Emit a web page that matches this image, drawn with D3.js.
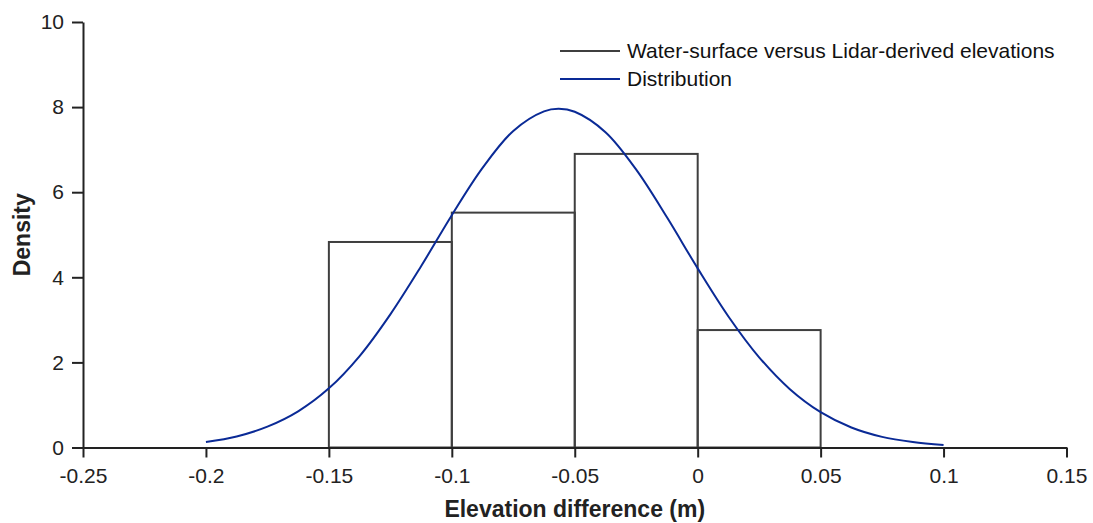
<!DOCTYPE html>
<html>
<head>
<meta charset="utf-8">
<script src="https://cdn.jsdelivr.net/npm/d3@7/dist/d3.min.js"></script>
<style>
  html, body { margin: 0; padding: 0; background: #fff; }
  svg { display: block; font-family: "Liberation Sans", Arial, sans-serif; }
</style>
</head>
<body>
<svg id="chart" width="1093" height="523"></svg>
<script>
// Histogram of elevation differences (density per 0.05 m bin)
const binEdges = [-0.15, -0.1, -0.05, 0, 0.05];
const binDensity = [4.83, 5.52, 6.90, 2.76];

// Fitted distribution curve, sampled along the elevation difference axis
const distX = [-0.2, -0.1875, -0.175, -0.1625, -0.15, -0.1375, -0.125, -0.1125, -0.1,
  -0.0875, -0.075, -0.0625, -0.0565, -0.05, -0.0375, -0.025, -0.0125, 0, 0.0125, 0.025,
  0.0375, 0.05, 0.0625, 0.075, 0.0875, 0.1];
const distY = [0.13, 0.26, 0.49, 0.85, 1.39, 2.15, 3.13, 4.26, 5.46,
  6.57, 7.44, 7.90, 7.96, 7.89, 7.41, 6.53, 5.41, 4.21, 3.08, 2.12,
  1.37, 0.83, 0.47, 0.25, 0.13, 0.06];

// Axis ticks
const xTicks = [-0.25, -0.2, -0.15, -0.1, -0.05, 0, 0.05, 0.1, 0.15];
const yTicks = [0, 2, 4, 6, 8, 10];

const legendLabels = ["Water-surface versus Lidar-derived elevations", "Distribution"];

const svg = d3.select("#chart");
const plotLeft = 83, plotRight = 1066.5, plotTop = 22, plotBottom = 447.5;

const x = d3.scaleLinear().domain([-0.25, 0.15]).range([plotLeft, plotRight]);
const y = d3.scaleLinear().domain([0, 10]).range([plotBottom, plotTop]);

const axisColor = "#222";
const barColor = "#3f3f3f";
const curveColor = "#0a2a96";

// Histogram bars (outlined)
const bars = binDensity.map((d, i) => ({ x0: binEdges[i], x1: binEdges[i + 1], v: d }));
svg.append("g")
  .selectAll("rect")
  .data(bars)
  .join("rect")
  .attr("x", d => x(d.x0))
  .attr("y", d => y(d.v))
  .attr("width", d => x(d.x1) - x(d.x0))
  .attr("height", d => y(0) - y(d.v))
  .attr("fill", "none")
  .attr("stroke", barColor)
  .attr("stroke-width", 2);

// Distribution curve
const line = d3.line()
  .x(d => x(d[0]))
  .y(d => y(d[1]))
  .curve(d3.curveCatmullRom.alpha(0.5));
svg.append("path")
  .datum(distX.map((v, i) => [v, distY[i]]))
  .attr("d", line)
  .attr("fill", "none")
  .attr("stroke", curveColor)
  .attr("stroke-width", 2);

// Axes
const fmt = d => String(d);
const xAxis = svg.append("g")
  .attr("transform", `translate(0,${plotBottom})`)
  .call(d3.axisBottom(x).tickValues(xTicks).tickFormat(fmt).tickSize(10).tickSizeOuter(0).tickPadding(11));
const yAxis = svg.append("g")
  .attr("transform", `translate(${plotLeft},0)`)
  .call(d3.axisLeft(y).tickValues(yTicks).tickFormat(fmt).tickSize(11).tickSizeOuter(0).tickPadding(8));

[xAxis, yAxis].forEach(g => {
  g.select(".domain").attr("stroke", axisColor).attr("stroke-width", 2);
  g.selectAll(".tick line").attr("stroke", axisColor).attr("stroke-width", 2);
  g.selectAll(".tick text")
    .attr("fill", "#222")
    .attr("font-size", 21)
    .attr("font-family", "Liberation Sans, Arial, sans-serif");
});

// Axis titles
svg.append("text")
  .attr("x", (plotLeft + plotRight) / 2)
  .attr("y", 517)
  .attr("text-anchor", "middle")
  .attr("font-size", 23)
  .attr("font-weight", "bold")
  .attr("fill", "#222")
  .text("Elevation difference (m)");

svg.append("text")
  .attr("transform", `translate(30,${(plotTop + plotBottom) / 2}) rotate(-90)`)
  .attr("text-anchor", "middle")
  .attr("font-size", 23)
  .attr("font-weight", "bold")
  .attr("fill", "#222")
  .text("Density");

// Legend
const legendColors = [barColor, curveColor];
const legend = svg.append("g");
legendLabels.forEach((label, i) => {
  const ly = 51 + i * 28;
  legend.append("line")
    .attr("x1", 560).attr("x2", 620)
    .attr("y1", ly).attr("y2", ly)
    .attr("stroke", legendColors[i])
    .attr("stroke-width", 2);
  legend.append("text")
    .attr("x", 627)
    .attr("y", ly)
    .attr("dy", "0.35em")
    .attr("font-size", 21)
    .attr("fill", "#111")
    .text(label);
});
</script>
</body>
</html>
